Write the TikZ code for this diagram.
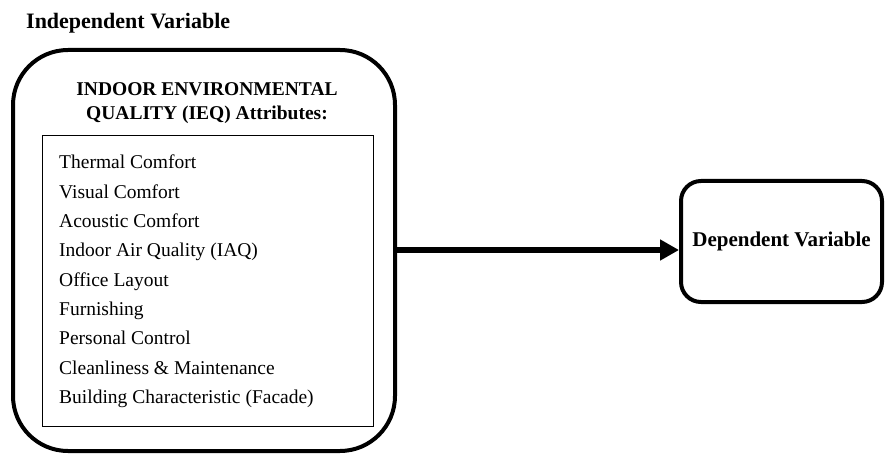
\documentclass[tikz,border=0pt]{standalone}
\usepackage{fontspec}
\setmainfont{Liberation Serif}
\usetikzlibrary{arrows.meta}
\begin{document}
\begin{tikzpicture}[x=1pt,y=-1pt,
  heading/.style={font=\fontsize{19.5}{24.5}\selectfont\bfseries},
  item/.style={font=\fontsize{19.5}{23}\selectfont, anchor=base west, inner sep=0pt},
  outerbox/.style={draw, line width=4pt, rounded corners=55pt},
  depbox/.style={draw, line width=4pt, rounded corners=20pt, minimum width=201pt, minimum height=121pt, inner sep=0pt},
  listbox/.style={draw, line width=0.9pt},
  bigarrow/.style={line width=5.5pt, -{Triangle[length=19pt,width=20pt]}}]
\useasboundingbox (0,0) rectangle (885,454);
\draw[outerbox] (13,50) rectangle (395,451);
\node[font=\fontsize{22}{26}\selectfont\bfseries, anchor=west, inner sep=0pt] (iv) at (26,23) {Independent Variable};
\node[heading, align=center, inner sep=0pt] (title) at (207,103) {INDOOR ENVIRONMENTAL\\QUALITY (IEQ) Attributes:};
\draw[listbox] (42,135) rectangle (373,426);
\node[item] (i1) at (59,169) {Thermal Comfort};
\node[item] (i2) at (59,198.3) {Visual Comfort};
\node[item] (i3) at (59,227.6) {Acoustic Comfort};
\node[item] (i4) at (59,256.9) {Indoor Air Quality (IAQ)};
\node[item] (i5) at (59,286.2) {Office Layout};
\node[item] (i6) at (59,315.5) {Furnishing};
\node[item] (i7) at (59,344.8) {Personal Control};
\node[item] (i8) at (59,374.1) {Cleanliness \& Maintenance};
\node[item] (i9) at (59,403.4) {Building Characteristic (Facade)};
\node[depbox, font=\fontsize{21}{25}\selectfont\bfseries] (dv) at (781.5,241.5) {Dependent Variable};
\coordinate (start) at (395,250);
\draw[bigarrow] (start) -- (dv.west |- start);
\end{tikzpicture}
\end{document}
